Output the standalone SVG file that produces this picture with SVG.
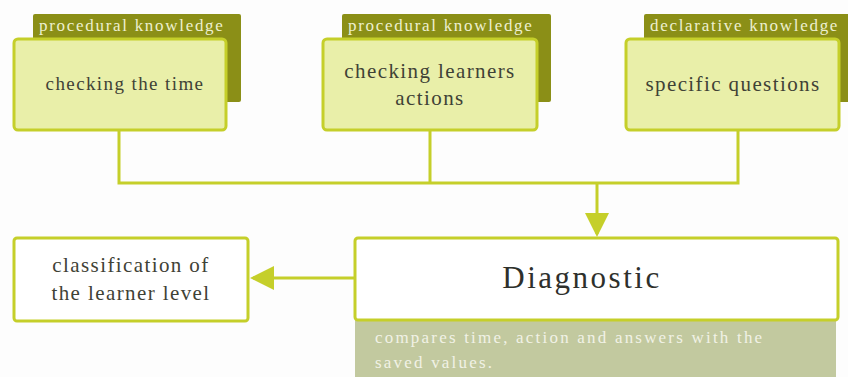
<svg xmlns="http://www.w3.org/2000/svg" width="848" height="377" viewBox="0 0 848 377">
<style>
.back{fill:#8b8f17}
.front{fill:#e9efa9;stroke:#c5cf2a;stroke-width:3}
.box{fill:#ffffff;stroke:#c5cf2a;stroke-width:3}
.tag{font-family:"Liberation Serif",serif;font-size:17px;fill:#eef0d0;letter-spacing:1.7px}
.lbl{font-family:"Liberation Serif",serif;font-size:21px;fill:#3f4236;letter-spacing:1.4px;text-anchor:middle}
.conn{fill:none;stroke:#c5cf2a;stroke-width:3}
</style>
<defs>
<marker id="ah" markerWidth="8" markerHeight="8" refX="7" refY="4" orient="auto" markerUnits="strokeWidth">
<path d="M0,0 L8,4 L0,8 z" fill="#c5cf2a"/>
</marker>
</defs>
<rect width="848" height="377" fill="#fdfdfd"/>
<g id="connectors">
<path class="conn" d="M119,130 V183 H738 V130 M430,130 V183"/>
<path class="conn" d="M597,183 V234" marker-end="url(#ah)"/>
<path class="conn" d="M355,278 H253" marker-end="url(#ah)"/>
</g>
<g id="node1">
<rect class="back" x="33" y="14" width="208" height="88" rx="2"/>
<text class="tag" x="39" y="31">procedural knowledge</text>
<rect class="front" x="14" y="39" width="212" height="91" rx="4"/>
<text class="lbl" x="125" y="90" style="font-size:19px">checking the time</text>
</g>
<g id="node2">
<rect class="back" x="342" y="14" width="209" height="88" rx="2"/>
<text class="tag" x="348" y="31">procedural knowledge</text>
<rect class="front" x="323" y="39" width="214" height="91" rx="4"/>
<text class="lbl" x="430" y="78">checking learners</text>
<text class="lbl" x="430" y="105">actions</text>
</g>
<g id="node3">
<rect class="back" x="644" y="14" width="210" height="88" rx="2"/>
<text class="tag" x="650" y="31">declarative knowledge</text>
<rect class="front" x="626" y="39" width="213" height="91" rx="4"/>
<text class="lbl" x="733" y="91">specific questions</text>
</g>
<g id="diagnostic">
<rect x="355" y="320" width="481" height="57" fill="#c2c99f"/>
<text x="375" y="343" font-family="Liberation Serif,serif" font-size="17" fill="#f1f2e6" letter-spacing="2.2">compares time, action and answers with the</text>
<text x="375" y="368" font-family="Liberation Serif,serif" font-size="17" fill="#f1f2e6" letter-spacing="2.2">saved values.</text>
<rect class="box" x="355" y="238" width="483" height="82" rx="3"/>
<text x="582" y="288" text-anchor="middle" font-family="Liberation Serif,serif" font-size="31" fill="#2e302c" letter-spacing="2.5">Diagnostic</text>
</g>
<g id="classification">
<rect class="box" x="14" y="238" width="234" height="83" rx="3"/>
<text class="lbl" x="131" y="272">classification of</text>
<text class="lbl" x="131" y="300">the learner level</text>
</g>
</svg>
